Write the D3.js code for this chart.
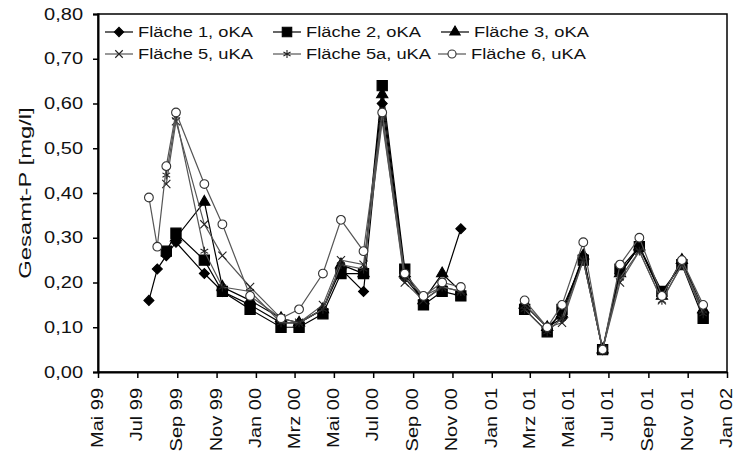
<!DOCTYPE html>
<html>
<head>
<meta charset="utf-8">
<script src="https://cdn.jsdelivr.net/npm/d3@7"></script>
<style>
  body { margin: 0; background: #fff; }
  svg { display: block; font-family: "Liberation Sans", Arial, sans-serif; }
</style>
</head>
<body>
<svg id="drawing_region"></svg>
<script>
// sampling dates
var SampleDates = [
    '1999-07-19', '1999-08-01', '1999-08-15', '1999-08-30', '1999-10-13', '1999-11-10',
    '1999-12-23', '2000-02-09', '2000-03-08', '2000-04-14', '2000-05-12', '2000-06-16',
    '2000-07-15', '2000-08-19', '2000-09-17', '2000-10-16', '2000-11-14',
    '2001-02-21', '2001-03-28', '2001-04-20', '2001-05-23', '2001-06-22', '2001-07-19',
    '2001-08-18', '2001-09-22', '2001-10-23', '2001-11-25'
];

var Flaeche1 = [0.16, 0.23, 0.26, 0.29, 0.22, 0.18, 0.15, 0.11, 0.11, 0.14, 0.23, 0.18, 0.60, 0.21, 0.16, 0.19, 0.32,
                0.15, 0.10, 0.12, 0.26, 0.05, 0.22, 0.28, 0.17, 0.25, 0.13];
var Flaeche2 = [null, null, 0.27, 0.31, 0.25, 0.18, 0.14, 0.10, 0.10, 0.13, 0.22, 0.22, 0.64, 0.23, 0.15, 0.18, 0.17,
                0.14, 0.09, 0.14, 0.25, 0.05, 0.23, 0.28, 0.18, 0.24, 0.12];
var Flaeche3 = [null, null, null, 0.30, 0.38, 0.19, 0.16, 0.12, 0.11, 0.14, 0.24, 0.22, 0.62, 0.22, 0.16, 0.22, 0.18,
                0.15, 0.10, 0.13, 0.26, 0.05, 0.22, 0.28, 0.17, 0.25, 0.14];
var Flaeche5 = [null, null, 0.42, 0.56, 0.33, 0.26, 0.19, 0.12, 0.11, 0.15, 0.25, 0.24, 0.57, 0.20, 0.16, 0.19, 0.18,
                0.15, 0.10, 0.11, 0.25, 0.05, 0.20, 0.27, 0.16, 0.24, 0.14];
var Flaeche5a = [null, null, 0.44, 0.57, 0.27, 0.19, 0.18, 0.11, 0.11, 0.14, 0.24, 0.23, 0.56, 0.21, 0.17, 0.19, 0.18,
                 0.14, 0.09, 0.12, 0.25, 0.05, 0.21, 0.27, 0.16, 0.24, 0.13];
var Flaeche6 = [0.39, 0.28, 0.46, 0.58, 0.42, 0.33, 0.17, 0.12, 0.14, 0.22, 0.34, 0.27, 0.58, 0.22, 0.17, 0.20, 0.19,
                0.16, 0.10, 0.15, 0.29, 0.05, 0.24, 0.30, 0.17, 0.25, 0.15];

var SeriesNames = ['Fläche 1, oKA', 'Fläche 2, oKA', 'Fläche 3, oKA', 'Fläche 5, uKA', 'Fläche 5a, uKA', 'Fläche 6, uKA'];
var MonthNames = ['Jan', 'Feb', 'Mrz', 'Apr', 'Mai', 'Jun', 'Jul', 'Aug', 'Sep', 'Okt', 'Nov', 'Dez'];
var YTicks = [0, 0.1, 0.2, 0.3, 0.4, 0.5, 0.6, 0.7, 0.8];
var YTitle = 'Gesamt-P [mg/l]';

var Config = {
    parent: '#drawing_region',
    width: 735,
    height: 451,
    margin: { top: 14, right: 8, bottom: 79, left: 98 }
};

// marker + line style per series
var Styles = [
    { symbol: d3.symbolSquare, size: 50, rotate: 45, fill: '#000', stroke: '#000', line: '#000' },
    { symbol: d3.symbolSquare, size: 105, rotate: 0, fill: '#000', stroke: '#000', line: '#000' },
    { symbol: d3.symbolTriangle, size: 55, rotate: 0, fill: '#000', stroke: '#000', line: '#000' },
    { symbol: d3.symbolTimes, size: 45, rotate: 0, fill: 'none', stroke: '#222', line: '#555' },
    { symbol: d3.symbolAsterisk, size: 55, rotate: 0, fill: 'none', stroke: '#222', line: '#555' },
    { symbol: d3.symbolCircle, size: 60, rotate: 0, fill: '#fff', stroke: '#333', line: '#555' }
];

class GesamtPChart {
    constructor(config) {
        this.config = config;
        this.series = [Flaeche1, Flaeche2, Flaeche3, Flaeche5, Flaeche5a, Flaeche6];
        this.dates = SampleDates.map(d => d3.timeParse('%Y-%m-%d')(d));
        this.init();
    }

    init() {
        let self = this;
        let m = self.config.margin;
        self.svg = d3.select(self.config.parent)
            .attr('width', self.config.width)
            .attr('height', self.config.height);

        self.inner_width = self.config.width - m.left - m.right;
        self.inner_height = self.config.height - m.top - m.bottom;

        self.chart = self.svg.append('g')
            .attr('transform', `translate(${m.left}, ${m.top})`);

        self.xscale = d3.scaleTime()
            .domain([new Date(1999, 4, 1), new Date(2002, 0, 1)])
            .range([0, self.inner_width]);

        self.yscale = d3.scaleLinear()
            .domain([0, 0.8])
            .range([self.inner_height, 0]);
    }

    render() {
        let self = this;
        let m = self.config.margin;

        // frame
        self.chart.append('rect')
            .attr('width', self.inner_width)
            .attr('height', self.inner_height)
            .attr('fill', 'none')
            .attr('stroke', '#000')
            .attr('stroke-width', 1.5);

        const yaxis = d3.axisLeft(self.yscale)
            .tickValues(YTicks)
            .tickSize(5)
            .tickPadding(7)
            .tickFormat(d => d3.format('.2f')(d).replace('.', ','));
        const yg = self.chart.append('g').call(yaxis);
        yg.select('.domain').attr('stroke-width', 2);
        yg.selectAll('.tick line').attr('stroke-width', 1.5);
        yg.selectAll('.tick text')
            .attr('font-size', 16)
            .attr('fill', '#111')
            .attr('transform', 'scale(1.25,1)');

        const xaxis = d3.axisBottom(self.xscale)
            .ticks(d3.timeMonth.every(2))
            .tickSize(6)
            .tickSizeOuter(0)
            .tickFormat(d => MonthNames[d.getMonth()] + ' ' + d3.timeFormat('%y')(d));
        const xg = self.chart.append('g')
            .attr('transform', `translate(0, ${self.inner_height})`)
            .call(xaxis);
        xg.select('.domain').attr('stroke-width', 2);
        xg.selectAll('.tick line').attr('stroke-width', 1.5);
        xg.selectAll('.tick text')
            .attr('font-size', 16)
            .attr('fill', '#111')
            .attr('text-anchor', 'end')
            .attr('dy', null)
            .attr('x', -12.8)
            .attr('y', 4.5)
            .attr('transform', 'rotate(-90) scale(1.25,1)');

        // y title
        self.svg.append('text')
            .attr('transform', `translate(31, ${m.top + self.inner_height / 2}) rotate(-90) scale(1.4,1)`)
            .attr('text-anchor', 'middle')
            .attr('font-size', 17)
            .attr('fill', '#111')
            .text(YTitle);

        const line = d3.line()
            .defined(p => p != null)
            .x(p => self.xscale(p.date))
            .y(p => self.yscale(p.value));

        self.series.forEach((values, si) => {
            const st = Styles[si];
            const pts = [];
            self.dates.forEach((d, i) => {
                // no line across the winter gap 2000/01
                if (i > 0 && (d - self.dates[i - 1]) > 60 * 864e5) pts.push(null);
                pts.push(values[i] == null ? null : { date: d, value: values[i] });
            });
            const g = self.chart.append('g');
            g.append('path')
                .attr('d', line(pts))
                .attr('fill', 'none')
                .attr('stroke', st.line)
                .attr('stroke-width', 1.2);
            g.selectAll('path.mk')
                .data(pts.filter(p => p != null))
                .join('path')
                .attr('class', 'mk')
                .attr('d', d3.symbol().type(st.symbol).size(st.size))
                .attr('transform', p => `translate(${self.xscale(p.date)}, ${self.yscale(p.value)}) rotate(${st.rotate})`)
                .attr('fill', st.fill)
                .attr('stroke', st.stroke)
                .attr('stroke-width', 1.1);
        });

        // legend
        const legend = self.svg.append('g');
        const colX = [105, 273, 441];
        const rowY = [32, 54];
        SeriesNames.forEach((name, i) => {
            const st = Styles[i];
            const x = colX[i % 3] - (i === 5 ? 3 : 0);
            const y = rowY[Math.floor(i / 3)];
            const g = legend.append('g').attr('transform', `translate(${x}, ${y})`);
            g.append('line')
                .attr('x1', 0).attr('x2', 28)
                .attr('stroke', st.line)
                .attr('stroke-width', 1.2);
            g.append('path')
                .attr('d', d3.symbol().type(st.symbol).size(st.size * 0.85))
                .attr('transform', `translate(14, 0) rotate(${st.rotate})`)
                .attr('fill', st.fill)
                .attr('stroke', st.stroke)
                .attr('stroke-width', 1.1);
            g.append('text')
                .attr('x', 33 / 1.22)
                .attr('dy', '0.35em')
                .attr('font-size', 15)
                .attr('fill', '#111')
                .attr('transform', 'scale(1.22,1)')
                .text(name);
        });
    }
}

const chart = new GesamtPChart(Config);
chart.render();
</script>
</body>
</html>
